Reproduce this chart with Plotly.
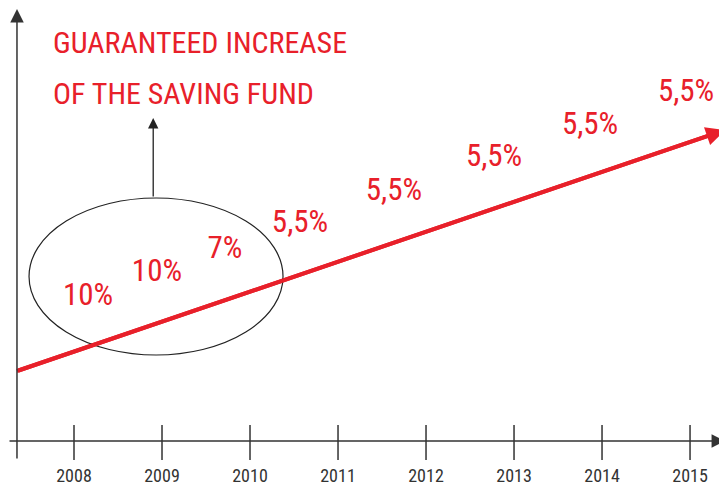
import plotly.graph_objects as go

# ---- data ----
years = [2008, 2009, 2010, 2011, 2012, 2013, 2014, 2015]
year_labels = ["2008", "2009", "2010", "2011", "2012", "2013", "2014", "2015"]
rate_labels = ["10%", "10%", "7%", "5,5%", "5,5%", "5,5%", "5,5%", "5,5%"]
title_lines = ["GUARANTEED INCREASE", "OF THE SAVING FUND"]

# ---- layout helpers (positions in axis units) ----
X0, X1 = 2007.25, 2015.420       # x range (year units)
Y0, Y1 = -48, 433                # y range
RED = "#e8202a"
AX = "#333333"
FONT = "Roboto Condensed, DejaVu Sans Condensed, sans-serif"

line_start = (2007.352, 70)       # growth arrow start
line_end = (2015.398, 311)        # growth arrow tip
slope = (line_end[1] - line_start[1]) / (line_end[0] - line_start[0])
label_x = [2008.159, 2008.943, 2009.716, 2010.568, 2011.636, 2012.773, 2013.864, 2014.955]
label_y = [line_start[1] + slope * (x - line_start[0]) + 50 for x in label_x]

fig = go.Figure()

# growth line (shaft)
shaft_end = line_end[0] - 0.12
fig.add_trace(go.Scatter(
    x=[line_start[0], shaft_end],
    y=[line_start[1], line_start[1] + slope * (shaft_end - line_start[0])],
    mode="lines", line=dict(color=RED, width=4), hoverinfo="skip", showlegend=False))

# rate labels
fig.add_trace(go.Scatter(
    x=label_x, y=label_y, mode="text", text=rate_labels,
    textposition="middle center",
    textfont=dict(family=FONT, size=31, color=RED),
    hoverinfo="skip", showlegend=False))

# tick marks
for yr in years:
    fig.add_shape(type="line", x0=yr, x1=yr, y0=16, y1=-19,
                  line=dict(color=AX, width=1.5))

# year labels
fig.add_trace(go.Scatter(
    x=years, y=[-36] * len(years), mode="text", text=year_labels,
    textposition="middle center",
    textfont=dict(family=FONT, size=18, color=AX),
    hoverinfo="skip", showlegend=False))

# axes with arrows
fig.add_annotation(x=2015.398, y=0, ax=X0, ay=0, xref="x", yref="y",
                   axref="x", ayref="y", showarrow=True, arrowhead=2,
                   arrowsize=1.8, arrowwidth=1.5, arrowcolor=AX, text="")
fig.add_annotation(x=2007.352, y=432, ax=2007.352, ay=-19, xref="x", yref="y",
                   axref="x", ayref="y", showarrow=True, arrowhead=2,
                   arrowsize=1.8, arrowwidth=1.5, arrowcolor=AX, text="")

# red arrow head
fig.add_annotation(x=line_end[0], y=line_end[1], ax=line_start[0], ay=line_start[1],
                   xref="x", yref="y", axref="x", ayref="y", showarrow=True,
                   arrowhead=2, arrowsize=0.95, arrowwidth=4, arrowcolor=RED, text="")

# ellipse around the first three years
fig.add_shape(type="circle", x0=2007.489, x1=2010.375, y0=86, y1=243,
              line=dict(color="#222222", width=1.2))

# small arrow from ellipse to title
fig.add_annotation(x=2008.9, y=323, ax=2008.9, ay=243, xref="x", yref="y",
                   axref="x", ayref="y", showarrow=True, arrowhead=2,
                   arrowsize=1.6, arrowwidth=1.3, arrowcolor="#222222", text="")

# title
for i, t in enumerate(title_lines):
    fig.add_annotation(x=2007.74, y=399 - 51 * i, xref="x", yref="y",
                       text=t, showarrow=False, xanchor="left", yanchor="middle",
                       font=dict(family=FONT, size=30, color=RED))

fig.update_layout(
    width=719, height=481,
    margin=dict(l=0, r=0, t=0, b=0),
    paper_bgcolor="white", plot_bgcolor="white",
    xaxis=dict(range=[X0, X1], visible=False, fixedrange=True),
    yaxis=dict(range=[Y0, Y1], visible=False, fixedrange=True),
)

fig.write_html("out.html")
